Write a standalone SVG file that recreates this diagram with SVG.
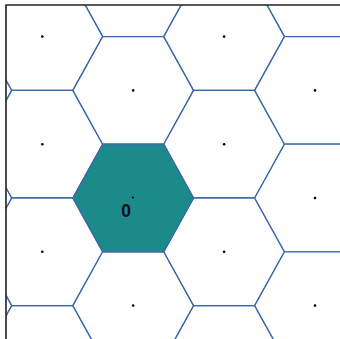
<svg xmlns="http://www.w3.org/2000/svg" xmlns:xlink="http://www.w3.org/1999/xlink" width="340" height="339" viewBox="0 0 340 339">
<style>
.hex{fill:#ffffff;stroke:#3b67ad;stroke-width:1.3;stroke-linejoin:miter}
.hex.sel{fill:#1b8a88}
.dot{fill:#000000}
.frame{stroke:#222222;stroke-width:1.6;fill:none}
.lbl{font-family:"Liberation Sans",Arial,sans-serif;font-size:17.5px;font-weight:bold;fill:#111111;text-anchor:middle}
</style>
<defs>
<polygon id="h" points="-60.3,0 -30.5,-53.8 30.5,-53.8 60.3,0 30.5,53.8 -30.5,53.8"/>
<clipPath id="c"><rect x="6" y="5" width="334" height="334"/></clipPath>
</defs>
<rect x="0" y="0" width="340" height="339" fill="#ffffff"/>
<g clip-path="url(#c)">
<g id="edge-hexes">
<use xlink:href="#h" class="hex" x="-48.6" y="-17.2"/>
<use xlink:href="#h" class="hex" x="-48.6" y="90.4"/>
<use xlink:href="#h" class="hex" x="-48.6" y="198"/>
<use xlink:href="#h" class="hex" x="-48.6" y="305.6"/>
<use xlink:href="#h" class="hex" x="42.3" y="-71"/>
<use xlink:href="#h" class="hex" x="42.3" y="359.4"/>
<use xlink:href="#h" class="hex" x="133.2" y="-17.2"/>
<use xlink:href="#h" class="hex" x="224.1" y="-71"/>
<use xlink:href="#h" class="hex" x="224.1" y="359.4"/>
<use xlink:href="#h" class="hex" x="315" y="-17.2"/>
</g>
<g id="hex-0-0"><use xlink:href="#h" class="hex" x="42.3" y="36.6"/><circle class="dot" cx="42.3" cy="36.6" r="1.3"/></g>
<g id="hex-0-1"><use xlink:href="#h" class="hex" x="42.3" y="144.2"/><circle class="dot" cx="42.3" cy="144.2" r="1.3"/></g>
<g id="hex-0-2"><use xlink:href="#h" class="hex" x="42.3" y="251.8"/><circle class="dot" cx="42.3" cy="251.8" r="1.3"/></g>
<g id="hex-1-0"><use xlink:href="#h" class="hex" x="133.2" y="90.4"/><circle class="dot" cx="133.2" cy="90.4" r="1.3"/></g>
<g id="hex-1-2"><use xlink:href="#h" class="hex" x="133.2" y="305.6"/><circle class="dot" cx="133.2" cy="305.6" r="1.3"/></g>
<g id="hex-2-0"><use xlink:href="#h" class="hex" x="224.1" y="36.6"/><circle class="dot" cx="224.1" cy="36.6" r="1.3"/></g>
<g id="hex-2-1"><use xlink:href="#h" class="hex" x="224.1" y="144.2"/><circle class="dot" cx="224.1" cy="144.2" r="1.3"/></g>
<g id="hex-2-2"><use xlink:href="#h" class="hex" x="224.1" y="251.8"/><circle class="dot" cx="224.1" cy="251.8" r="1.3"/></g>
<g id="hex-3-0"><use xlink:href="#h" class="hex" x="315" y="90.4"/><circle class="dot" cx="315" cy="90.4" r="1.3"/></g>
<g id="hex-3-1"><use xlink:href="#h" class="hex" x="315" y="198"/><circle class="dot" cx="315" cy="198" r="1.3"/></g>
<g id="hex-3-2"><use xlink:href="#h" class="hex" x="315" y="305.6"/><circle class="dot" cx="315" cy="305.6" r="1.3"/></g>
<g id="hex-1-1"><use xlink:href="#h" class="hex sel" x="133.2" y="198"/><circle class="dot" cx="133" cy="197.5" r="1.1"/><text class="lbl" x="126.2" y="216.7">0</text></g>
</g>
<g id="connectors"/>
<path class="frame" d="M340,5 H6 V339"/>
</svg>
